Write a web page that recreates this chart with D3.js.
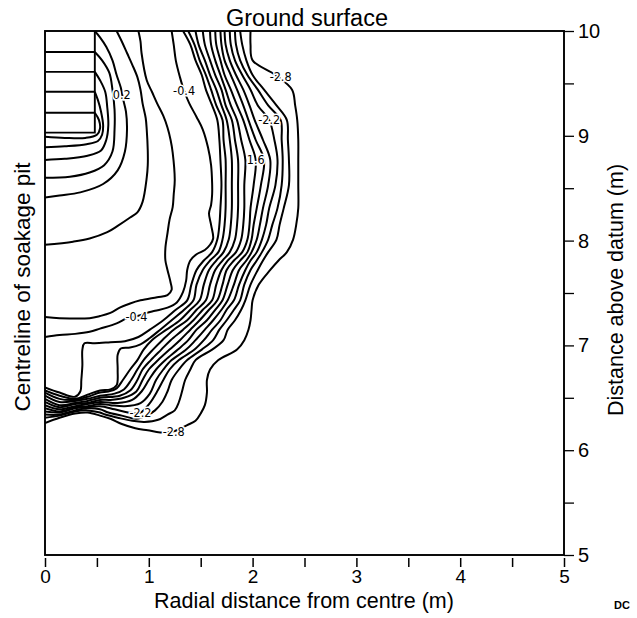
<!DOCTYPE html>
<html>
<head>
<meta charset="utf-8">
<script src="https://cdn.jsdelivr.net/npm/d3@7"></script>
<style>
  html, body { margin: 0; padding: 0; background: #fff; }
  svg { display: block; font-family: "Liberation Sans", Arial, Helvetica, sans-serif; }
</style>
</head>
<body>
<svg id="chart" width="637" height="618"></svg>
<script>
// ---- axis ticks (m) ----
const xTickValues = [0, 0.5, 1, 1.5, 2, 2.5, 3, 3.5, 4, 4.5, 5];
const yTickValues = [5, 5.5, 6, 6.5, 7, 7.5, 8, 8.5, 9, 9.5, 10];

// ---- soakage pit: radius, base level and water-level lines (m) ----
const pitRadius = 0.48;
const pitBase = 9.03;
const pitLevels = [9.80, 9.61, 9.42, 9.22];

// ---- contours around the pit, points as [r, z] in metres ----
const contour10 = [[0.48,9.22],[0.52,9.15],[0.53,9.07],[0.50,9.01],[0.39,8.98],[0.19,8.98],[0,8.99]];
const contour08 = [[0.48,9.42],[0.51,9.34],[0.54,9.23],[0.56,9.10],[0.55,9.01],[0.51,8.95],[0.40,8.92],[0.19,8.90],[0,8.89]];
const contour06 = [[0.48,9.61],[0.53,9.53],[0.58,9.42],[0.60,9.27],[0.61,9.10],[0.59,8.96],[0.54,8.86],[0.41,8.81],[0.19,8.78],[0,8.77]];
const contour04 = [[0.48,9.80],[0.55,9.72],[0.62,9.60],[0.65,9.44],[0.67,9.25],[0.67,9.06],[0.65,8.85],[0.57,8.72],[0.43,8.65],[0.24,8.61],[0,8.60]];
const contour02 = [[0.48,10],[0.53,9.94],[0.59,9.85],[0.65,9.72],[0.69,9.58],[0.73,9.46],[0.75,9.36],[0.78,9.23],[0.79,9.06],[0.77,8.85],[0.70,8.67],[0.56,8.54],[0.34,8.46],[0.14,8.43],[0,8.41]];
const contour00 = [[0.69,10],[0.74,9.90],[0.79,9.79],[0.84,9.68],[0.89,9.56],[0.92,9.44],[0.94,9.31],[0.97,9.17],[0.98,9.06],[0.99,8.86],[0.99,8.72],[0.98,8.60],[0.94,8.37],[0.89,8.27],[0.82,8.22],[0.70,8.14],[0.60,8.08],[0.43,8.02],[0.27,7.99],[0,7.96]];
const contourM02 = [[0.90,10],[0.92,9.90],[0.93,9.79],[0.98,9.53],[1.03,9.42],[1.08,9.31],[1.14,9.19],[1.18,9.08],[1.21,8.96],[1.23,8.84],[1.25,8.58],[1.24,8.44],[1.23,8.32],[1.20,8.20],[1.18,8.07],[1.16,7.93],[1.16,7.81],[1.18,7.72],[1.21,7.60],[1.22,7.53],[1.18,7.48],[1.08,7.46],[0.92,7.43],[0.82,7.40],[0.72,7.36],[0.63,7.31],[0.53,7.28],[0.43,7.26],[0.14,7.26],[0,7.27]];
const contourM04 = [[1.22,10],[1.24,9.87],[1.26,9.72],[1.30,9.56],[1.34,9.43],[1.39,9.31],[1.46,9.18],[1.52,9.06],[1.57,8.89],[1.60,8.72],[1.61,8.55],[1.61,8.44],[1.60,8.34],[1.58,8.26],[1.60,8.15],[1.62,8.02],[1.59,7.96],[1.54,7.91],[1.46,7.87],[1.40,7.81],[1.37,7.72],[1.36,7.62],[1.33,7.51],[1.27,7.41],[1.18,7.36],[1.06,7.33],[0.98,7.31],[0.89,7.28],[0.79,7.26],[0.69,7.21],[0.53,7.16],[0.43,7.13],[0.29,7.11],[0.14,7.10],[0,7.08]];

// ---- steep band of contours -0.6 ... -2.8 ----
const bundleLevels = [-0.6, -0.8, -1.0, -1.2, -1.4, -1.6, -1.8, -2.0, -2.2, -2.4, -2.6, -2.8];
// heights (m) of the horizontal transects
const bundleRowZ = [10.00, 9.87, 9.72, 9.58, 9.44, 9.29, 9.15, 8.96, 8.77, 8.53, 8.31, 8.15, 8.01, 7.89, 7.81, 7.72, 7.58, 7.43, 7.34, 7.24, 7.15, 7.05, 6.96, 6.86, 6.77, 6.67];
// radial position (m) of each contour on each transect
const bundleRowR = [
  [1.33,1.38,1.45,1.52,1.59,1.64,1.69,1.73,1.78,1.83,1.88,1.98],
  [1.40,1.44,1.48,1.54,1.60,1.65,1.70,1.74,1.79,1.84,1.90,1.98],
  [1.45,1.49,1.54,1.59,1.64,1.69,1.73,1.78,1.83,1.88,1.94,2.00],
  [1.51,1.55,1.59,1.64,1.69,1.73,1.79,1.84,1.90,1.95,2.00,2.22],
  [1.55,1.60,1.65,1.70,1.74,1.79,1.85,1.91,1.98,2.05,2.11,2.38],
  [1.61,1.65,1.70,1.74,1.79,1.85,1.91,1.97,2.05,2.15,2.23,2.41],
  [1.66,1.71,1.75,1.80,1.85,1.91,1.96,2.02,2.16,2.27,2.33,2.43],
  [1.68,1.72,1.78,1.83,1.89,1.97,2.03,2.10,2.21,2.28,2.34,2.44],
  [1.69,1.74,1.80,1.86,1.93,2.03,2.11,2.17,2.24,2.29,2.35,2.44],
  [1.70,1.74,1.80,1.86,1.92,2.01,2.08,2.15,2.22,2.28,2.35,2.44],
  [1.69,1.74,1.80,1.86,1.92,1.98,2.04,2.10,2.16,2.24,2.30,2.44],
  [1.68,1.73,1.79,1.85,1.91,1.97,2.01,2.07,2.13,2.19,2.26,2.42],
  [1.66,1.71,1.77,1.83,1.89,1.95,1.99,2.04,2.09,2.15,2.23,2.39],
  [1.61,1.67,1.72,1.78,1.84,1.90,1.95,1.99,2.04,2.09,2.15,2.33],
  [1.53,1.59,1.65,1.71,1.76,1.82,1.88,1.94,1.98,2.04,2.10,2.25],
  [1.46,1.52,1.58,1.64,1.70,1.75,1.81,1.87,1.93,1.98,2.05,2.17],
  [1.41,1.46,1.53,1.59,1.65,1.71,1.76,1.82,1.87,1.92,1.98,2.06],
  [1.37,1.43,1.49,1.55,1.61,1.66,1.71,1.76,1.82,1.88,1.93,2.00],
  [1.26,1.34,1.40,1.46,1.52,1.58,1.64,1.70,1.75,1.82,1.89,1.99],
  [1.14,1.22,1.30,1.37,1.43,1.49,1.56,1.62,1.69,1.75,1.83,1.98],
  [1.01,1.11,1.17,1.24,1.33,1.40,1.46,1.54,1.61,1.68,1.76,1.96],
  [null,null,1.03,1.13,1.21,1.30,1.38,1.45,1.53,1.62,1.72,1.92],
  [null,null,0.95,1.04,1.12,1.20,1.28,1.36,1.44,1.51,1.61,1.85],
  [null,null,0.89,0.95,1.02,1.09,1.16,1.22,1.29,1.37,1.45,1.67],
  [null,null,0.82,0.89,0.94,1.00,1.07,1.14,1.20,1.29,1.40,1.59],
  [null,null,0.75,0.83,0.89,0.94,1.00,1.07,1.14,1.22,1.35,1.56]
];
// lower ends of the band, running into the centreline below the pit
const bundleTails = [
  [[0.90,7.08],[0.77,7.04],[0.63,7.03],[0.48,7.02],[0.38,7.02],[0.36,6.96],[0.36,6.81],[0.35,6.67],[0.34,6.56],[0.29,6.51],[0.14,6.55],[0,6.60]],
  [[1.01,7.07],[0.92,7.01],[0.82,6.98],[0.73,6.97],[0.70,6.91],[0.70,6.77],[0.69,6.62],[0.63,6.58],[0.53,6.57],[0.41,6.53],[0.29,6.49],[0.14,6.52],[0,6.57]],
  [[0.69,6.59],[0.61,6.56],[0.53,6.55],[0.41,6.51],[0.29,6.48],[0.14,6.49],[0,6.55]],
  [[0.76,6.58],[0.67,6.54],[0.53,6.52],[0.41,6.49],[0.29,6.47],[0.14,6.46],[0,6.52]],
  [[0.82,6.57],[0.72,6.52],[0.53,6.50],[0.41,6.47],[0.29,6.45],[0.14,6.43],[0,6.49]],
  [[0.88,6.56],[0.76,6.50],[0.63,6.48],[0.53,6.48],[0.41,6.45],[0.29,6.44],[0.14,6.41],[0,6.46]],
  [[0.93,6.56],[0.84,6.48],[0.70,6.45],[0.53,6.46],[0.41,6.44],[0.29,6.42],[0.14,6.39],[0,6.43]],
  [[1.01,6.54],[0.92,6.45],[0.77,6.42],[0.63,6.43],[0.53,6.44],[0.41,6.42],[0.29,6.41],[0.14,6.37],[0,6.40]],
  [[1.08,6.56],[1.01,6.45],[0.92,6.36],[0.80,6.36],[0.67,6.39],[0.53,6.42],[0.41,6.41],[0.29,6.40],[0.14,6.36],[0,6.37]],
  [[1.18,6.56],[1.13,6.46],[1.06,6.38],[0.98,6.33],[0.88,6.30],[0.74,6.33],[0.61,6.36],[0.53,6.39],[0.41,6.40],[0.29,6.38],[0.14,6.34],[0,6.34]],
  [[1.32,6.56],[1.29,6.46],[1.25,6.38],[1.18,6.34],[1.09,6.29],[0.96,6.27],[0.84,6.28],[0.70,6.31],[0.58,6.34],[0.53,6.36],[0.41,6.38],[0.29,6.37],[0.14,6.33],[0,6.31]],
  [[1.56,6.55],[1.54,6.43],[1.50,6.35],[1.45,6.28],[1.37,6.24],[1.24,6.18],[1.11,6.17],[0.99,6.19],[0.87,6.21],[0.74,6.25],[0.63,6.30],[0.53,6.33],[0.41,6.36],[0.29,6.35],[0.14,6.31],[0,6.26]]
];

// ---- contour labels: text and anchor [r, z] (m) ----
const labelTexts = ["0.2", "-0.4", "-2.8", "-2.2", "1.6", "-0.4", "-2.2", "-2.8"];
const labelAnchors = [[0.74,9.39],[1.34,9.43],[2.27,9.56],[2.16,9.15],[2.03,8.77],[0.88,7.27],[0.92,6.36],[1.24,6.18]];

// ================= drawing =================
const svg = d3.select("#chart");
const x = d3.scaleLinear().domain([0, 5]).range([45, 564]);
const y = d3.scaleLinear().domain([5, 10]).range([555, 31]);

svg.append("defs").append("clipPath").attr("id", "plotClip")
  .append("rect")
  .attr("x", x(0)).attr("y", y(10))
  .attr("width", x(5) - x(0)).attr("height", y(5) - y(10));

const plot = svg.append("g").attr("clip-path", "url(#plotClip)");

const contourLine = d3.line()
  .x(d => x(d[0])).y(d => y(d[1]))
  .curve(d3.curveCatmullRom.alpha(0.5));

// pit outline and its water-level lines
const pit = plot.append("g").attr("stroke", "#000").attr("stroke-width", 1.9).attr("fill", "none");
pit.append("path")
  .attr("d", d3.line().x(d => x(d[0])).y(d => y(d[1]))([[pitRadius, 10], [pitRadius, pitBase], [0, pitBase]]));
pit.selectAll("line.level").data(pitLevels).join("line")
  .attr("class", "level")
  .attr("x1", x(0)).attr("x2", x(pitRadius))
  .attr("y1", d => y(d)).attr("y2", d => y(d));

// assemble all contour polylines
const contours = [
  { level: 1.0, pts: contour10 },
  { level: 0.8, pts: contour08 },
  { level: 0.6, pts: contour06 },
  { level: 0.4, pts: contour04 },
  { level: 0.2, pts: contour02 },
  { level: 0.0, pts: contour00 },
  { level: -0.2, pts: contourM02 },
  { level: -0.4, pts: contourM04 }
];
bundleLevels.forEach((lev, i) => {
  const pts = [];
  bundleRowZ.forEach((z, k) => {
    const r = bundleRowR[k][i];
    if (r !== null) pts.push([r, z]);
  });
  bundleTails[i].forEach(p => pts.push(p));
  contours.push({ level: lev, pts });
});

plot.append("g")
  .attr("fill", "none").attr("stroke", "#000")
  .attr("stroke-width", 2).attr("stroke-linejoin", "round")
  .selectAll("path").data(contours).join("path")
  .attr("d", d => contourLine(d.pts));

// contour labels with a white halo that breaks the line beneath
plot.append("g").selectAll("text").data(labelTexts).join("text")
  .attr("x", (d, i) => x(labelAnchors[i][0]))
  .attr("y", (d, i) => y(labelAnchors[i][1]))
  .attr("dy", "0.35em")
  .attr("text-anchor", "middle")
  .attr("font-family", "'Liberation Sans Narrow', 'DejaVu Sans Condensed', Arial, sans-serif")
  .attr("font-size", 12.5)
  .attr("fill", "#000")
  .attr("stroke", "#fff").attr("stroke-width", 3).attr("paint-order", "stroke")
  .text(d => d);

// frame
svg.append("rect")
  .attr("x", x(0)).attr("y", y(10))
  .attr("width", x(5) - x(0)).attr("height", y(5) - y(10))
  .attr("fill", "none").attr("stroke", "#000").attr("stroke-width", 1.9);

// bottom axis
const xAxis = d3.axisBottom(x)
  .tickValues(xTickValues)
  .tickSize(12).tickPadding(3).tickSizeOuter(0)
  .tickFormat(d => Number.isInteger(d) ? String(d) : "");
const gx = svg.append("g").attr("transform", `translate(0,${y(5)})`).call(xAxis);
gx.attr("font-size", null).attr("font-family", null);
gx.select(".domain").remove();
gx.selectAll(".tick line").attr("y1", 3).attr("stroke-width", 1.5);
gx.selectAll(".tick text").attr("font-size", 19).attr("fill", "#000");

// right axis
const yAxis = d3.axisRight(y)
  .tickValues(yTickValues)
  .tickSize(10).tickPadding(4).tickSizeOuter(0)
  .tickFormat(d => Number.isInteger(d) ? String(d) : "");
const gy = svg.append("g").attr("transform", `translate(${x(5)},0)`).call(yAxis);
gy.attr("font-size", null).attr("font-family", null);
gy.select(".domain").remove();
gy.selectAll(".tick line").attr("stroke-width", 1.3);
gy.selectAll(".tick text").attr("font-size", 20).attr("fill", "#000");

// titles
svg.append("text")
  .attr("x", 307).attr("y", 26).attr("text-anchor", "middle")
  .attr("font-size", 23.5).text("Ground surface");

svg.append("text")
  .attr("x", 304).attr("y", 608).attr("text-anchor", "middle")
  .attr("font-size", 21.5).text("Radial distance from centre (m)");

svg.append("text")
  .attr("transform", "translate(30,287) rotate(-90)")
  .attr("text-anchor", "middle")
  .attr("font-size", 22.5).text("Centreline of soakage pit");

svg.append("text")
  .attr("transform", "translate(623,290) rotate(-90)")
  .attr("text-anchor", "middle")
  .attr("font-size", 21.5).text("Distance above datum (m)");

svg.append("text")
  .attr("x", 622).attr("y", 609).attr("text-anchor", "middle")
  .attr("font-size", 11).attr("font-weight", "bold").text("DC");
</script>
</body>
</html>
